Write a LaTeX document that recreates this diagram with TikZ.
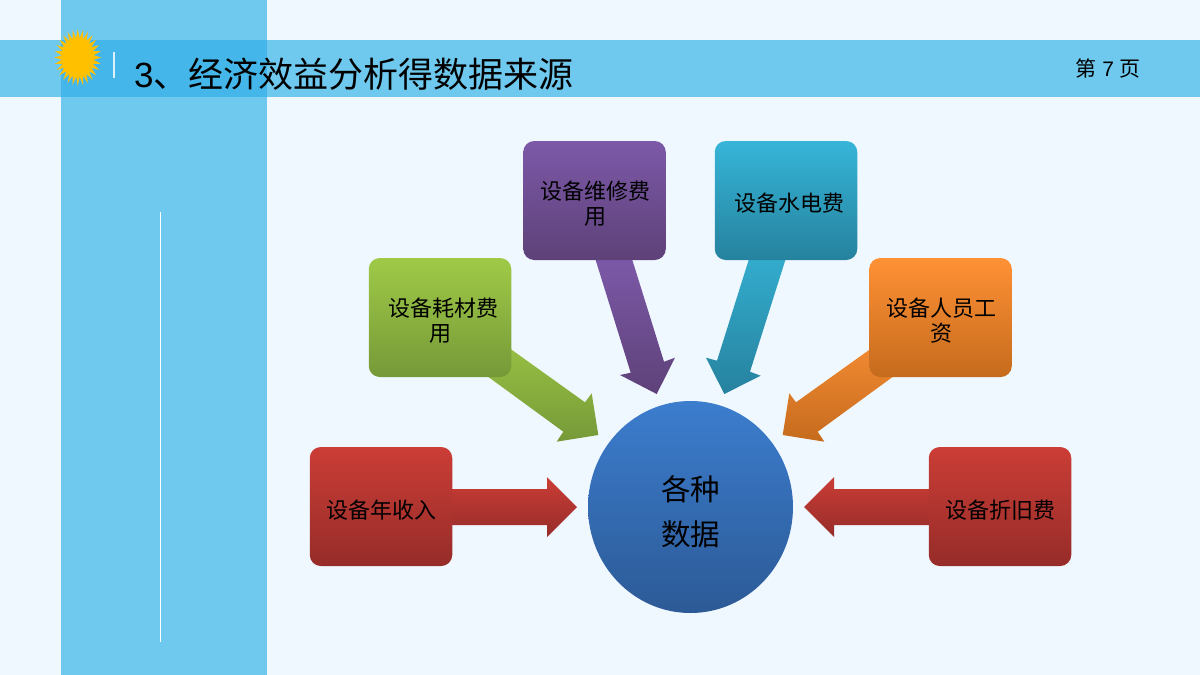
\documentclass[tikz,border=0pt]{standalone}
\usepackage{fontspec}
\setmainfont{Liberation Sans}
\newfontfamily\cjk{Noto Sans CJK SC}
\usetikzlibrary{shapes.geometric}
\definecolor{bg}{HTML}{F0F8FF}
\definecolor{panel}{HTML}{6FC9EF}
\definecolor{overlap}{HTML}{45B6E9}
\definecolor{sun}{HTML}{FFC000}
\definecolor{redT}{HTML}{CB3D36}\definecolor{redB}{HTML}{962C29}
\definecolor{greenT}{HTML}{9FCA47}\definecolor{greenB}{HTML}{769938}
\definecolor{purpleT}{HTML}{7C59A8}\definecolor{purpleB}{HTML}{5E4178}
\definecolor{tealT}{HTML}{36B5D8}\definecolor{tealB}{HTML}{26829E}
\definecolor{orangeT}{HTML}{FF9135}\definecolor{orangeB}{HTML}{C56B1D}
\definecolor{blueT}{HTML}{3C7DCE}\definecolor{blueB}{HTML}{2C5A96}
\tikzset{
  card/.style={rectangle,rounded corners=11pt,minimum width=142.5pt,minimum height=119pt,inner sep=0pt},
  cardtext/.style={inner sep=0pt,align=center,font=\fontsize{22}{25}\selectfont\cjk,text=black},
  hubtext/.style={inner sep=0pt,align=center,font=\fontsize{29.5}{45.5}\selectfont\cjk,text=black},
  redcard/.style={card,top color=redT,bottom color=redB},
  greencard/.style={card,top color=greenT,bottom color=greenB},
  purplecard/.style={card,top color=purpleT,bottom color=purpleB},
  tealcard/.style={card,top color=tealT,bottom color=tealB},
  orangecard/.style={card,top color=orangeT,bottom color=orangeB},
  redarrow/.style={top color=redT,bottom color=redB},
  greenarrow/.style={top color=greenT!95!black,bottom color=greenB},
  purplearrow/.style={top color=purpleT,bottom color=purpleB},
  tealarrow/.style={top color=tealT!95!black,bottom color=tealB},
  orangearrow/.style={top color=orangeT!95!black,bottom color=orangeB},
}
\begin{document}
\begin{tikzpicture}[x=1pt,y=-1pt]
\useasboundingbox (0,0) rectangle (1200,675);
\fill[bg] (0,0) rectangle (1200,675);
\fill[panel] (61,0) rectangle (267,675);
\fill[panel] (0,40) rectangle (1200,97);
\fill[overlap] (61,40) rectangle (267,97);
\draw[white,line width=1pt] (160.5,212) -- (160.5,642);
\draw[white!75!panel,line width=1.2pt] (114,52) -- (114,78);
% sun: 28-point star stretched vertically
\fill[sun] plot[samples=57,domain=0:56,variable=\k]
  ({77.8+23.5*(1-0.32*mod(\k,2))*cos(\k*6.42857)},{57.5+28.5*(1-0.32*mod(\k,2))*sin(\k*6.42857)}) -- cycle;
\node[anchor=west,inner sep=0pt,font=\fontsize{35}{40}\selectfont] (title) at (134,74) {3{\cjk 、经济效益分析得数据来源}};
\node[anchor=east,inner sep=0pt,font=\fontsize{21}{24}\selectfont] (page) at (1141,68) {{\cjk 第} 7 {\cjk 页}};

% arrows
\shade[redarrow] (450,489) -- (547,489) -- (547,477) -- (577,507) -- (547,537) -- (547,525) -- (450,525) -- cycle;
\shade[redarrow] (931,489) -- (834,489) -- (834,477) -- (804,507) -- (834,537) -- (834,525) -- (931,525) -- cycle;
\shade[greenarrow] (505,345) -- (585,402.3) -- (591.7,393.3) -- (598.3,435) -- (556.7,441.7) -- (563.3,431.7) -- (483,373) -- cycle;
\shade[orangearrow] (876,345) -- (796,402.3) -- (789.3,393.3) -- (782.7,435) -- (824.3,441.7) -- (817.7,431.7) -- (898,373) -- cycle;
\shade[purplearrow] (595,258) -- (631.7,258) -- (664,361.7) -- (675,357.7) -- (656.7,394) -- (620,375) -- (630.7,372.7) -- cycle;
\shade[tealarrow] (786,258) -- (749.3,258) -- (717,360.7) -- (706,357.7) -- (724.3,394) -- (760.7,375.7) -- (750,371.7) -- cycle;

% cards
\node[redcard,label={[cardtext,shift={(0.5,4)}]center:设备年收入}] (income) at (381,506.5) {};
\node[redcard,label={[cardtext,shift={(0,4)}]center:设备折旧费}] (deprec) at (1000,506.5) {};
\node[greencard,label={[cardtext,shift={(3.5,3.5)}]center:设备耗材费\\\hspace*{-7pt}用}] (consum) at (440,317.5) {};
\node[purplecard,label={[cardtext,shift={(1,3.5)}]center:设备维修费\\\hspace*{-1pt}用}] (repair) at (594.5,200.5) {};
\node[tealcard,label={[cardtext,shift={(3.5,3)}]center:设备水电费}] (power) at (786,200.5) {};
\node[orangecard,label={[cardtext,shift={(0.5,3.5)}]center:设备人员工\\资}] (staff) at (940.5,317.5) {};
\node[ellipse,minimum width=205pt,minimum height=212pt,inner sep=0pt,top color=blueT,bottom color=blueB,
  label={[hubtext,shift={(0,4.5)}]center:各种\\数据}] (hub) at (690.5,507) {};
\end{tikzpicture}
\end{document}
